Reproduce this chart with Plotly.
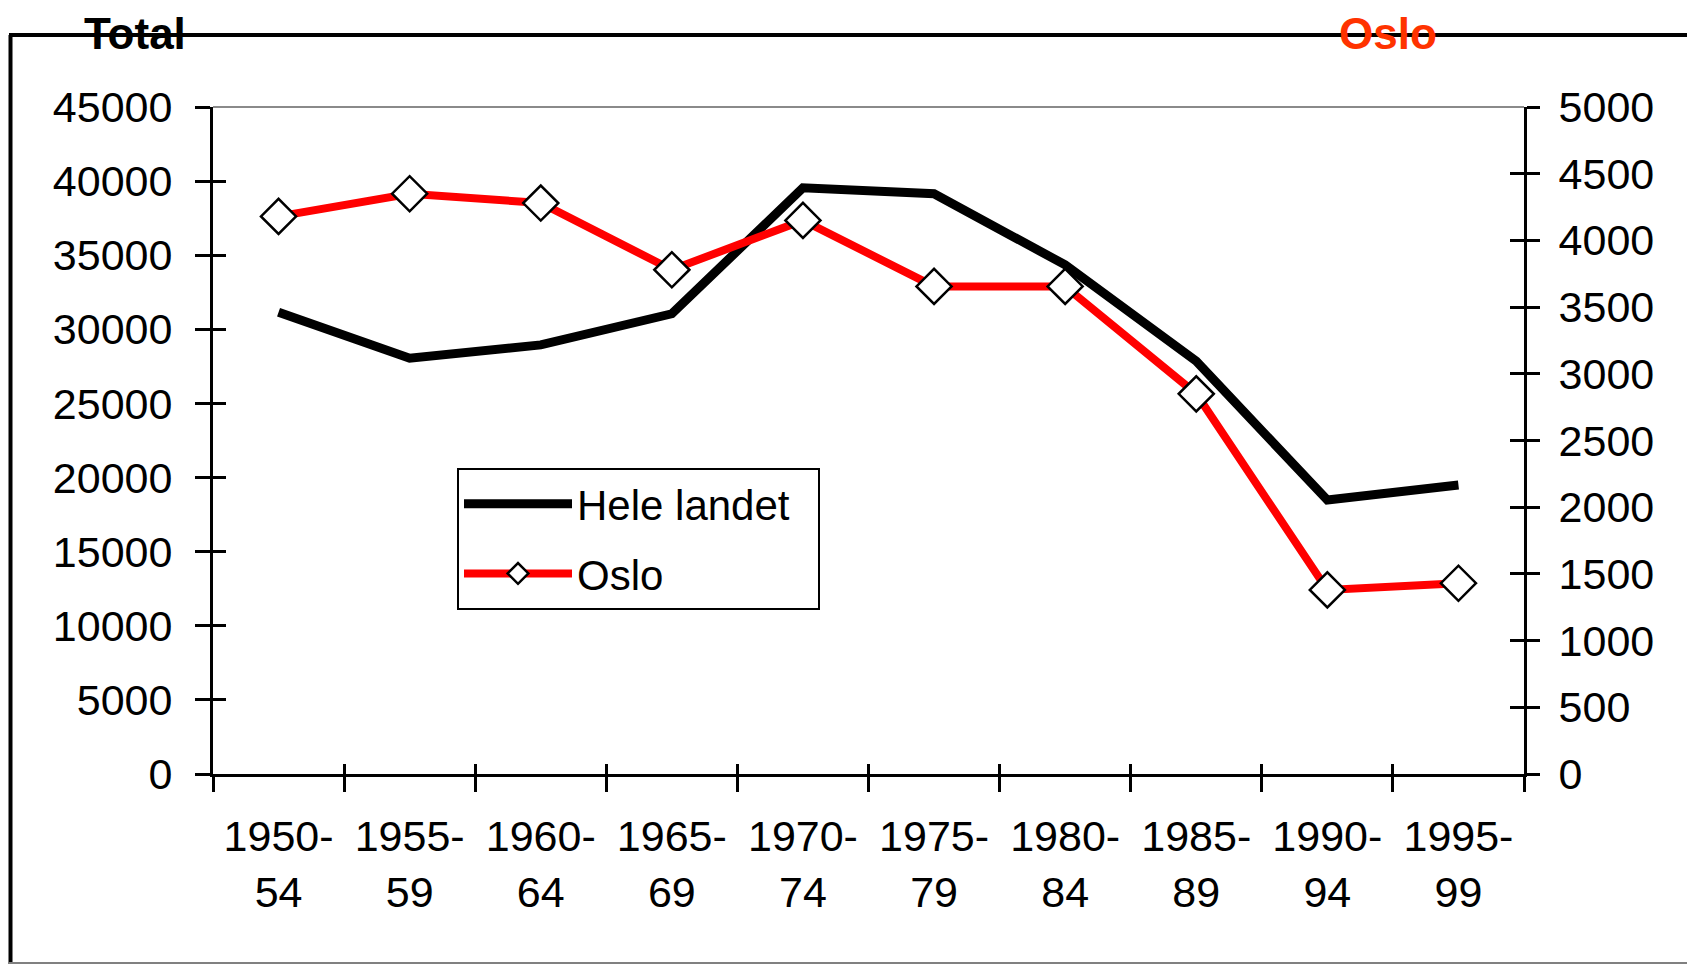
import plotly.graph_objects as go

# ---- data ----
periods = ["1950-54", "1955-59", "1960-64", "1965-69", "1970-74",
           "1975-79", "1980-84", "1985-89", "1990-94", "1995-99"]
hele_landet = [31150, 28050, 28950, 31050, 39550, 39150, 34350, 27850, 18480, 19500]
oslo = [4180, 4350, 4280, 3780, 4150, 3655, 3655, 2850, 1380, 1430]

left_range = [0, 45000]
right_range = [0, 5000]

labels = [p.replace("-", "-<br>") for p in periods]

# page is 1695x964, body has an 8px margin
OFF = 8
W, H = 1695 - OFF, 964 - OFF
L, R, T, B = 213, 1524, 107, 774  # plot area in page pixels


def px(x):
    return (x - L) / (R - L)


def py(y):
    return (B - y) / (B - T)


FONT = "Liberation Sans, Arial, sans-serif"
n = len(periods)

fig = go.Figure()
fig.add_trace(go.Scatter(x=labels, y=hele_landet, name="Hele landet&nbsp;&nbsp;", mode="lines",
                         line=dict(color="black", width=9), yaxis="y",
                         legendgroup="a"))
fig.add_trace(go.Scatter(x=labels, y=oslo, name="Oslo", mode="lines+markers",
                         line=dict(color="#ff0000", width=8),
                         marker=dict(symbol="diamond", size=27, color="white",
                                     line=dict(color="black", width=2.5)),
                         yaxis="y2", legendgroup="b"))

# empty helper traces so the overlay axes (inner half of the crossing ticks) get drawn
fig.add_trace(go.Scatter(x=list(range(n)), y=hele_landet, mode="none", xaxis="x2", yaxis="y",
                         showlegend=False, hoverinfo="skip"))
fig.add_trace(go.Scatter(x=labels, y=hele_landet, mode="none", yaxis="y3",
                         showlegend=False, hoverinfo="skip"))
fig.add_trace(go.Scatter(x=labels, y=oslo, mode="none", yaxis="y4",
                         showlegend=False, hoverinfo="skip"))

tick_font = dict(family=FONT, size=43, color="black")

fig.update_layout(
    width=W, height=H,
    margin=dict(l=L - OFF, r=W - (R - OFF), t=T - OFF, b=H - (B - OFF), autoexpand=False),
    paper_bgcolor="white", plot_bgcolor="white",
    font=dict(family=FONT, color="black"),
    showlegend=True,
    xaxis=dict(type="category", range=[-0.5, n - 0.5], tickson="boundaries",
               ticks="outside", ticklen=15, tickwidth=3, tickcolor="black",
               showline=True, linecolor="black", linewidth=3,
               showgrid=False, zeroline=False, tickfont=tick_font,
               ticklabelstandoff=22, automargin=False),
    xaxis2=dict(visible=True, overlaying="x", anchor="y", range=[-0.5, n - 0.5],
                tickvals=[i - 0.5 for i in range(n + 1)],
                ticks="inside", ticklen=10, tickwidth=3, tickcolor="black",
                showticklabels=False, showline=False, showgrid=False, zeroline=False),
    yaxis=dict(range=left_range, dtick=5000, tickformat="d",
               ticks="outside", ticklen=15, tickwidth=3, tickcolor="black",
               showline=True, linecolor="black", linewidth=3,
               showgrid=False, zeroline=False, tickfont=tick_font,
               ticklabelstandoff=14, automargin=False),
    yaxis2=dict(range=right_range, dtick=500, tickformat="d", overlaying="y", side="right",
                ticks="outside", ticklen=13, tickwidth=3, tickcolor="black",
                showline=True, linecolor="black", linewidth=3,
                showgrid=False, zeroline=False, tickfont=tick_font,
                ticklabelstandoff=10, automargin=False),
    yaxis3=dict(visible=True, range=left_range, dtick=5000, overlaying="y", side="left",
                anchor="x", ticks="inside", ticklen=13, tickwidth=3, tickcolor="black",
                showticklabels=False, showline=False, showgrid=False, zeroline=False),
    yaxis4=dict(visible=True, range=right_range, dtick=500, overlaying="y", side="right",
                anchor="x", ticks="inside", ticklen=14, tickwidth=3, tickcolor="black",
                showticklabels=False, showline=False, showgrid=False, zeroline=False),
    legend=dict(x=px(457), y=py(468), xanchor="left", yanchor="top",
                bgcolor="white", bordercolor="black", borderwidth=2,
                font=dict(family=FONT, size=42, color="black"),
                itemwidth=108, tracegroupgap=12),
    annotations=[
        dict(text="<b>Total</b>", x=px(135), y=py(33), xref="paper", yref="paper",
             showarrow=False, xanchor="center", yanchor="middle",
             font=dict(family=FONT, size=44, color="black")),
        dict(text="<b>Oslo</b>", x=px(1388), y=py(33), xref="paper", yref="paper",
             showarrow=False, xanchor="center", yanchor="middle",
             font=dict(family=FONT, size=44, color="#ff3300")),
    ],
    shapes=[
        # grey top edge of plot area
        dict(type="line", xref="paper", yref="paper", x0=0, x1=1, y0=1, y1=1,
             line=dict(color="#8a8a8a", width=2), layer="below"),
        # outer frame
        dict(type="line", xref="paper", yref="paper", x0=px(10.5), x1=px(10.5),
             y0=py(964), y1=py(35), line=dict(color="black", width=4)),
        dict(type="line", xref="paper", yref="paper", x0=px(9), x1=px(1700),
             y0=py(35), y1=py(35), line=dict(color="black", width=4)),
        dict(type="line", xref="paper", yref="paper", x0=px(9), x1=px(1700),
             y0=py(963), y1=py(963), line=dict(color="#808080", width=2)),
    ],
)

fig.write_html("out.html")
